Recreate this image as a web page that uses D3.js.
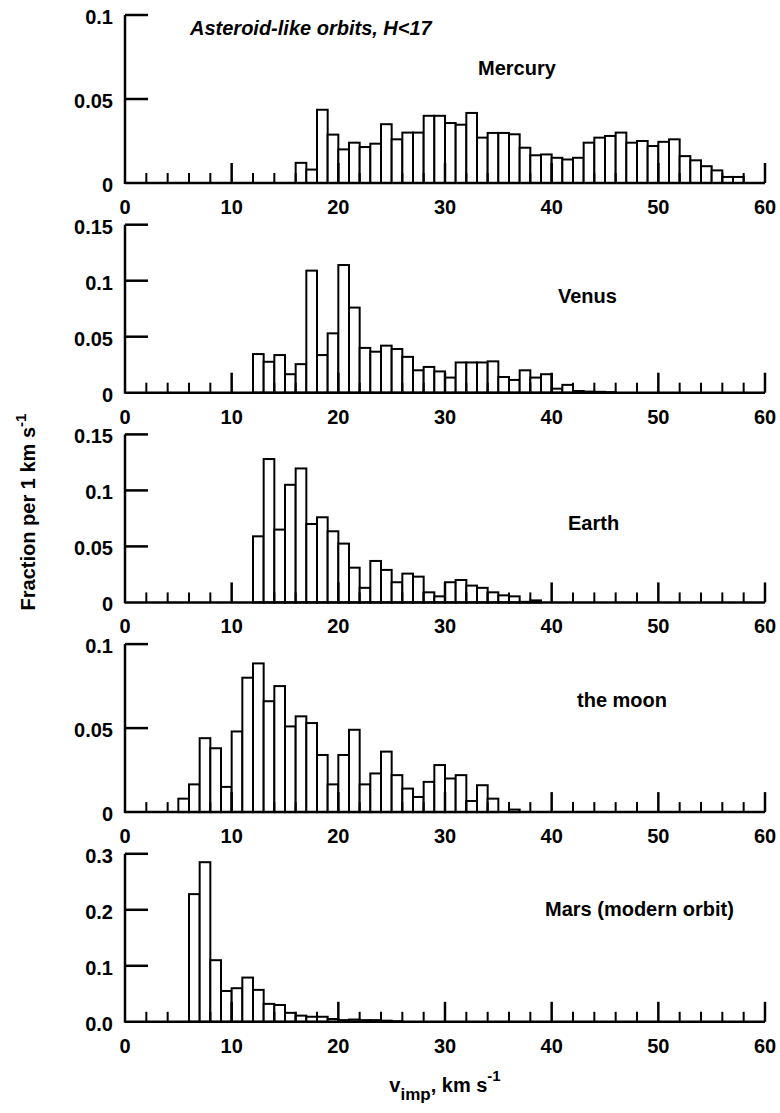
<!DOCTYPE html>
<html>
<head>
<meta charset="utf-8">
<script src="https://cdn.jsdelivr.net/npm/d3@7"></script>
<style>
  body { margin: 0; background: #fff; }
  text { font-family: "Liberation Sans", Arial, sans-serif; font-weight: bold; fill: #000; }
</style>
</head>
<body>
<script>
// impact velocity histograms, bins 1 km/s wide, first bin edge given per body
var bodies = ["Mercury", "Venus", "Earth", "the moon", "Mars (modern orbit)"];
var binStart = [16, 12, 12, 5, 6];

var mercury = [0.012, 0.008, 0.0436, 0.0288, 0.020, 0.024, 0.0214, 0.0234, 0.035, 0.026,
  0.030, 0.030, 0.040, 0.040, 0.0357, 0.0347, 0.0417, 0.027, 0.0298, 0.0298,
  0.029, 0.021, 0.0165, 0.017, 0.015, 0.014, 0.015, 0.024, 0.027, 0.028,
  0.030, 0.024, 0.025, 0.022, 0.0245, 0.026, 0.016, 0.0135, 0.010, 0.0075,
  0.0036, 0.0036];
var venus = [0.0345, 0.0276, 0.0336, 0.0165, 0.0255, 0.109, 0.0336, 0.053, 0.114, 0.076,
  0.040, 0.0366, 0.042, 0.039, 0.032, 0.020, 0.023, 0.019, 0.0135, 0.027,
  0.027, 0.027, 0.028, 0.014, 0.0114, 0.020, 0.0135, 0.0165, 0.0036, 0.007,
  0.0015, 0.001, 0.0008, 0.0005];
var earth = [0.059, 0.128, 0.065, 0.105, 0.1196, 0.070, 0.076, 0.0635, 0.0525, 0.031,
  0.013, 0.037, 0.029, 0.018, 0.0257, 0.023, 0.009, 0.0054, 0.018, 0.020,
  0.015, 0.013, 0.009, 0.0063, 0.0054, 0.0005, 0.0018];
var moon = [0.008, 0.0165, 0.044, 0.038, 0.015, 0.048, 0.080, 0.0885, 0.066, 0.075,
  0.051, 0.057, 0.053, 0.034, 0.0165, 0.034, 0.049, 0.0165, 0.023, 0.036,
  0.022, 0.014, 0.009, 0.018, 0.028, 0.020, 0.022, 0.0066, 0.016, 0.008,
  0, 0.0015];
var mars = [0.228, 0.285, 0.110, 0.055, 0.060, 0.079, 0.057, 0.032, 0.030, 0.016,
  0.011, 0.009, 0.009, 0.005, 0.003, 0.004, 0.003, 0.003, 0.002, 0.001];
var series = [mercury, venus, earth, moon, mars];

var yMax = [0.1, 0.15, 0.15, 0.1, 0.3];
var yTicks = [[0, 0.05, 0.1], [0, 0.05, 0.1, 0.15], [0, 0.05, 0.1, 0.15], [0, 0.05, 0.1], [0, 0.1, 0.2, 0.3]];
var yTickFmt = [d3.format(""), d3.format(""), d3.format(""), d3.format(""), d3.format(".1f")];
var xMajor = [0, 10, 20, 30, 40, 50, 60];
var xMinor = [2, 4, 6, 8, 12, 14, 16, 18, 22, 24, 26, 28, 32, 34, 36, 38, 42, 44, 46, 48, 52, 54, 56, 58];

// layout
var W = 780, H = 1113;
var panelTop0 = 15, panelStep = 209.7, panelH = 168;
var labelPos = [[478, 60], [558, 78], [568, 96], [577, 63], [545, 62]];

var svg = d3.select("body").append("svg")
  .attr("width", W)
  .attr("height", H);

var x = d3.scaleLinear().domain([0, 60]).range([125, 765]);

bodies.forEach(function (name, i) {
  var top = panelTop0 + i * panelStep;
  var y = d3.scaleLinear().domain([0, yMax[i]]).range([top + panelH, top]);
  var g = svg.append("g");
  var y0 = y(0);

  var bins = series[i].map(function (v, k) { return {x0: binStart[i] + k, v: v}; })
    .filter(function (d) { return d.v > 0; });

  g.selectAll("rect.bar")
    .data(bins)
    .enter()
    .append("rect")
    .attr("class", "bar")
    .attr("x", function (d) { return x(d.x0); })
    .attr("y", function (d) { return y(d.v); })
    .attr("width", function (d) { return x(d.x0 + 1) - x(d.x0); })
    .attr("height", function (d) { return y0 - y(d.v); })
    .attr("fill", "#fff")
    .attr("stroke", "#000")
    .attr("stroke-width", 2);

  // x ticks, pointing up
  g.selectAll("line.xmin")
    .data(xMinor)
    .enter()
    .append("line")
    .attr("x1", function (d) { return x(d); })
    .attr("x2", function (d) { return x(d); })
    .attr("y1", y0)
    .attr("y2", y0 - 10)
    .attr("stroke", "#000")
    .attr("stroke-width", 2);
  g.selectAll("line.xmaj")
    .data(xMajor.slice(1))
    .enter()
    .append("line")
    .attr("x1", function (d) { return x(d); })
    .attr("x2", function (d) { return x(d); })
    .attr("y1", y0)
    .attr("y2", y0 - 20)
    .attr("stroke", "#000")
    .attr("stroke-width", 2.5);
  g.selectAll("text.xl")
    .data(xMajor)
    .enter()
    .append("text")
    .attr("x", function (d) { return x(d); })
    .attr("y", y0 + 31)
    .attr("text-anchor", "middle")
    .attr("font-size", 20)
    .text(function (d) { return d; });

  // y ticks, pointing right
  g.selectAll("line.yt")
    .data(yTicks[i].slice(1))
    .enter()
    .append("line")
    .attr("x1", x(0))
    .attr("x2", x(0) + 23)
    .attr("y1", function (d) { return y(d); })
    .attr("y2", function (d) { return y(d); })
    .attr("stroke", "#000")
    .attr("stroke-width", 2.5);
  g.selectAll("text.yl")
    .data(yTicks[i])
    .enter()
    .append("text")
    .attr("x", 113)
    .attr("y", function (d) { return y(d) + 9; })
    .attr("text-anchor", "end")
    .attr("font-size", 20)
    .text(function (d) { return yTickFmt[i](d); });

  // axis lines
  g.append("line")
    .attr("x1", x(0)).attr("x2", x(60))
    .attr("y1", y0).attr("y2", y0)
    .attr("stroke", "#000").attr("stroke-width", 2.5);
  g.append("line")
    .attr("x1", x(0)).attr("x2", x(0))
    .attr("y1", y(yMax[i])).attr("y2", y0 + 1)
    .attr("stroke", "#000").attr("stroke-width", 2.5);

  g.append("text")
    .attr("x", labelPos[i][0])
    .attr("y", top + labelPos[i][1])
    .attr("font-size", 20)
    .text(name);
});

svg.append("text")
  .attr("x", 190)
  .attr("y", 35)
  .attr("font-size", 20)
  .attr("font-style", "italic")
  .text("Asteroid-like orbits, H<17");

// y axis title
var yt = svg.append("text")
  .attr("transform", "translate(35,512) rotate(-90)")
  .attr("text-anchor", "middle")
  .attr("font-size", 20);
yt.append("tspan").text("Fraction per 1 km s");
yt.append("tspan").attr("dy", -9).attr("font-size", 15).text("-1");

// x axis title
var xt = svg.append("text")
  .attr("x", x(30))
  .attr("y", 1092)
  .attr("text-anchor", "middle")
  .attr("font-size", 20);
xt.append("tspan").text("v");
xt.append("tspan").attr("dy", 8).attr("font-size", 17).text("imp");
xt.append("tspan").attr("dy", -8).text(", km s");
xt.append("tspan").attr("dy", -11).attr("font-size", 15).text("-1");
</script>
</body>
</html>
